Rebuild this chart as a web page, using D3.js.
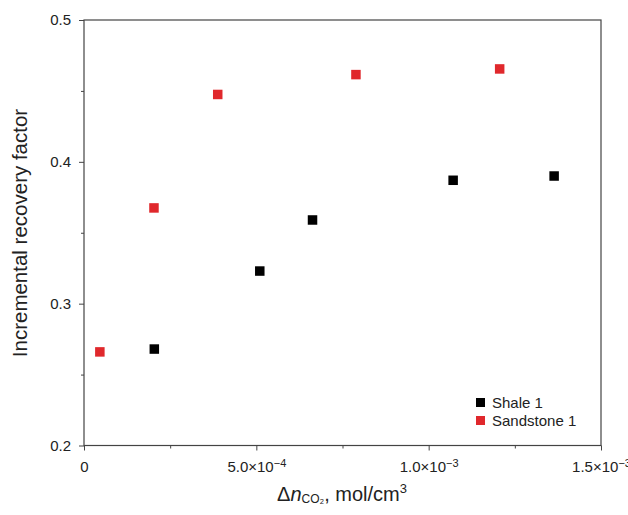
<!DOCTYPE html>
<html>
<head>
<meta charset="utf-8">
<script src="https://cdn.jsdelivr.net/npm/d3@7"></script>
<style>
  body { margin: 0; background: #fff; }
  svg text { font-family: "Liberation Sans", Arial, sans-serif; fill: #222; }
</style>
</head>
<body>
<svg id="chart" width="628" height="515"></svg>
<script>
const shaleX = [2.04e-4, 5.1e-4, 6.63e-4, 1.071e-3, 1.364e-3];
const shaleY = [0.268, 0.323, 0.359, 0.387, 0.390];
const sandX = [4.6e-5, 2.03e-4, 3.88e-4, 7.89e-4, 1.206e-3];
const sandY = [0.266, 0.3675, 0.4475, 0.4615, 0.4655];

const xTicks = [0, 5e-4, 1e-3, 1.5e-3];
const xTickBase = ["0", "5.0×10", "1.0×10", "1.5×10"];
const xTickExp = ["", "−4", "−3", "−3"];
const yTicks = [0.2, 0.3, 0.4, 0.5];

const series = [
  { name: "Shale 1", color: "#000000", xs: shaleX, ys: shaleY },
  { name: "Sandstone 1", color: "#e0282c", xs: sandX, ys: sandY }
];

const svg = d3.select("#chart");
const plotLeft = 84, plotRight = 601, plotTop = 20, plotBottom = 445.5;

const x = d3.scaleLinear().domain([0, 1.5e-3]).range([plotLeft, plotRight]);
const y = d3.scaleLinear().domain([0.2, 0.5]).range([plotBottom, plotTop]);

// frame
svg.append("rect")
  .attr("x", plotLeft).attr("y", plotTop)
  .attr("width", plotRight - plotLeft).attr("height", plotBottom - plotTop)
  .attr("fill", "none").attr("stroke", "#444").attr("stroke-width", 1.2);

// axes
const xg = svg.append("g")
  .attr("transform", `translate(0,${plotBottom})`)
  .call(d3.axisBottom(x).tickValues(xTicks).tickSize(5).tickPadding(11).tickFormat(""));
xg.selectAll(".tick text").each(function (d, i) {
  const t = d3.select(this);
  t.append("tspan").text(xTickBase[i]);
  if (xTickExp[i]) {
    t.append("tspan").attr("dy", "-0.45em").style("font-size", "11px").text(xTickExp[i]);
  }
});
svg.append("g")
  .attr("transform", `translate(0,${plotBottom})`)
  .call(d3.axisBottom(x).tickValues([2.5e-4, 7.5e-4, 1.25e-3]).tickSize(3).tickFormat(""));

svg.append("g")
  .attr("transform", `translate(${plotLeft},0)`)
  .call(d3.axisLeft(y).tickValues(yTicks).tickSize(5).tickPadding(8)
    .tickFormat(d3.format(".1f")));
svg.append("g")
  .attr("transform", `translate(${plotLeft},0)`)
  .call(d3.axisLeft(y).tickValues([0.25, 0.35, 0.45]).tickSize(3).tickFormat(""));

svg.selectAll(".domain").remove();
svg.selectAll(".tick line").attr("stroke", "#444");
svg.selectAll(".tick text").style("font-size", "15px").attr("fill", "#222");

// points
const size = 9.5;
series.forEach(s => {
  svg.append("g").selectAll("rect")
    .data(s.xs.map((v, i) => [v, s.ys[i]]))
    .enter()
    .append("rect")
    .attr("x", d => x(d[0]) - size / 2)
    .attr("y", d => y(d[1]) - size / 2)
    .attr("width", size).attr("height", size)
    .attr("fill", s.color);
});

// legend
const legend = svg.append("g").attr("transform", "translate(476,398)");
series.forEach((s, i) => {
  legend.append("rect")
    .attr("x", 0).attr("y", i * 18).attr("width", 9).attr("height", 9)
    .attr("fill", s.color);
  legend.append("text")
    .attr("x", 16).attr("y", i * 18 + 10)
    .style("font-size", "15px")
    .text(s.name);
});

// axis titles
svg.append("text")
  .attr("transform", "translate(27,233) rotate(-90)")
  .attr("text-anchor", "middle")
  .style("font-size", "20.5px")
  .text("Incremental recovery factor");

const xt = svg.append("text")
  .attr("x", 342).attr("y", 501)
  .attr("text-anchor", "middle")
  .style("font-size", "20px");
xt.append("tspan").text("Δ");
xt.append("tspan").style("font-style", "italic").text("n");
xt.append("tspan").style("font-size", "12px").attr("dy", 2).text("CO₂");
xt.append("tspan").attr("dy", -2).text(", mol/cm");
xt.append("tspan").style("font-size", "13px").attr("dy", -8).text("3");
</script>
</body>
</html>
